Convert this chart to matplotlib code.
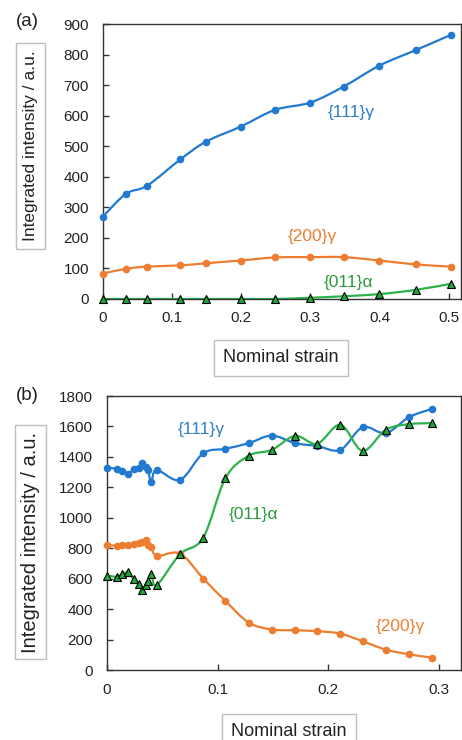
import numpy as np
import matplotlib
matplotlib.use("Agg")
import matplotlib.pyplot as plt
from matplotlib.path import Path
from matplotlib.patches import PathPatch
from matplotlib.ticker import FuncFormatter, MultipleLocator

plt.rcParams['font.family'] = ['Liberation Sans', 'DejaVu Sans']

# ---------------- data: panel (a) ----------------
strain_a = [0, 0.033, 0.064, 0.112, 0.149, 0.199, 0.249, 0.300, 0.348, 0.400, 0.453, 0.504]
i111_a = [270, 344, 371, 457, 515, 564, 619, 643, 695, 764, 815, 865]
i200_a = [83, 99, 106, 110, 117, 126, 136, 137, 137, 126, 113, 106]
i011_a = [0, 0, 0, 0, 0, 0, 0, 4, 9, 16, 30, 50]

# ---------------- data: panel (b) ----------------
strain_b = [0, 0.0087, 0.0138, 0.019, 0.024, 0.0285, 0.032, 0.035, 0.037, 0.040, 0.045,
            0.066, 0.087, 0.107, 0.128, 0.149, 0.170, 0.190, 0.211, 0.231, 0.252, 0.273, 0.294]
i111_b = [1330, 1321, 1310, 1286, 1321, 1330, 1358, 1336, 1314, 1238, 1314,
          1249, 1424, 1453, 1490, 1540, 1490, 1472, 1446, 1595, 1556, 1661, 1716]
i200_b = [821, 817, 821, 821, 828, 832, 839, 853, 821, 810, 749,
          765, 601, 454, 312, 266, 261, 255, 239, 189, 134, 103, 81]
i011_b = [620, 613, 629, 642, 596, 565, 526, 560, 585, 633, 558,
          761, 869, 1260, 1407, 1446, 1538, 1486, 1611, 1440, 1578, 1615, 1622]

xticks_a = [0, 0.1, 0.2, 0.3, 0.4, 0.5]
xticks_b = [0, 0.1, 0.2, 0.3]

C_BLUE = '#2279d0'
C_ORANGE = '#ed7d31'
C_GREEN = '#2db34a'
C_TRI = '#1fa63a'


def smooth_path(x, y):
    pts = np.column_stack([x, y]).astype(float)
    n = len(pts)
    verts = [pts[0]]
    codes = [Path.MOVETO]
    for i in range(n - 1):
        p0 = pts[i - 1] if i > 0 else pts[i]
        p1 = pts[i]
        p2 = pts[i + 1]
        p3 = pts[i + 2] if i + 2 < n else pts[i + 1]
        c1 = p1 + (p2 - p0) / 6.0
        c2 = p2 - (p3 - p1) / 6.0
        verts += [c1, c2, p2]
        codes += [Path.CURVE4] * 3
    return Path(verts, codes)


def series(ax, x, y, color, marker, mfc, mec, ms):
    ax.add_patch(PathPatch(smooth_path(x, y), fill=False, edgecolor=color, lw=1.6,
                           zorder=2, capstyle='round', joinstyle='round'))
    ax.plot(x, y, linestyle='none', marker=marker, ms=ms, mfc=mfc, mec=mec,
            mew=0.8 if mec == 'black' else 0, zorder=3, clip_on=False)


def fmt(v, pos):
    return '0' if abs(v) < 1e-9 else f'{v:.1f}'


def style(ax):
    for s in ax.spines.values():
        s.set_color('#333333')
        s.set_linewidth(1.0)
    ax.tick_params(direction='in', length=4, width=1, colors='#333333',
                   labelcolor='#222222', labelsize=11)
    ax.tick_params(axis='y', pad=10)
    ax.tick_params(axis='x', pad=9)
    ax.xaxis.set_major_formatter(FuncFormatter(fmt))


W, H = 462, 740
fig = plt.figure(figsize=(W / 100, H / 100), dpi=100)


def rect(l, t, r, b):
    return [l / W, 1 - b / H, (r - l) / W, (b - t) / H]


def box(pad):
    return dict(boxstyle=f'square,pad={pad}', fc='white', ec='#bfbfbf', lw=1.0)


# ---------------- panel (a) ----------------
ax1 = fig.add_axes(rect(103, 24, 461, 299))
style(ax1)
ax1.set_xlim(0, 0.518)
ax1.set_ylim(0, 900)
ax1.set_xticks(xticks_a)
ax1.yaxis.set_major_locator(MultipleLocator(100))
series(ax1, strain_a, i111_a, C_BLUE, 'o', C_BLUE, C_BLUE, 5.5)
series(ax1, strain_a, i200_a, C_ORANGE, 'o', C_ORANGE, C_ORANGE, 5.5)
series(ax1, strain_a, i011_a, C_GREEN, '^', C_TRI, 'black', 6)
ax1.text(351 / W, 1 - 113 / H, '{111}γ', transform=fig.transFigure, color='#2e7fc8',
         fontsize=12.5, ha='center', va='center')
ax1.text(312 / W, 1 - 237 / H, '{200}γ', transform=fig.transFigure, color=C_ORANGE,
         fontsize=12.5, ha='center', va='center')
ax1.text(349 / W, 1 - 283 / H, '{011}α', transform=fig.transFigure, color='#2a9a3e',
         fontsize=12.5, ha='center', va='center')

fig.text(27 / W, 1 - 22 / H, '(a)', fontsize=13.5, ha='center', va='center', color='#222222')
fig.text(30.5 / W, 1 - 146 / H, 'Integrated intensity / a.u.', rotation=90, fontsize=12.5,
         ha='center', va='center', color='#222222', bbox=box(0.42))
fig.text(281 / W, 1 - 358 / H, 'Nominal strain', fontsize=13, ha='center', va='center',
         color='#222222', bbox=box(0.5))

# ---------------- panel (b) ----------------
ax2 = fig.add_axes(rect(107, 396, 461, 670))
style(ax2)
ax2.set_xlim(0, 0.32)
ax2.set_ylim(0, 1800)
ax2.set_xticks(xticks_b)
ax2.yaxis.set_major_locator(MultipleLocator(200))
series(ax2, strain_b, i111_b, C_BLUE, 'o', C_BLUE, C_BLUE, 5.5)
series(ax2, strain_b, i200_b, C_ORANGE, 'o', C_ORANGE, C_ORANGE, 5.5)
series(ax2, strain_b, i011_b, C_GREEN, '^', C_TRI, 'black', 6)
ax2.text(201 / W, 1 - 430 / H, '{111}γ', transform=fig.transFigure, color='#2e7fc8',
         fontsize=12.5, ha='center', va='center')
ax2.text(253 / W, 1 - 515 / H, '{011}α', transform=fig.transFigure, color='#2a9a3e',
         fontsize=12.5, ha='center', va='center')
ax2.text(400 / W, 1 - 627 / H, '{200}γ', transform=fig.transFigure, color=C_ORANGE,
         fontsize=12.5, ha='center', va='center')

fig.text(27 / W, 1 - 395 / H, '(b)', fontsize=13.5, ha='center', va='center', color='#222222')
fig.text(30.5 / W, 1 - 542 / H, 'Integrated intensity / a.u.', rotation=90, fontsize=14.5,
         ha='center', va='center', color='#222222', bbox=box(0.3))
fig.text(289 / W, 1 - 732 / H, 'Nominal strain', fontsize=13, ha='center', va='center',
         color='#222222', bbox=box(0.5))

fig.savefig('out.png', dpi=100, facecolor='white')
